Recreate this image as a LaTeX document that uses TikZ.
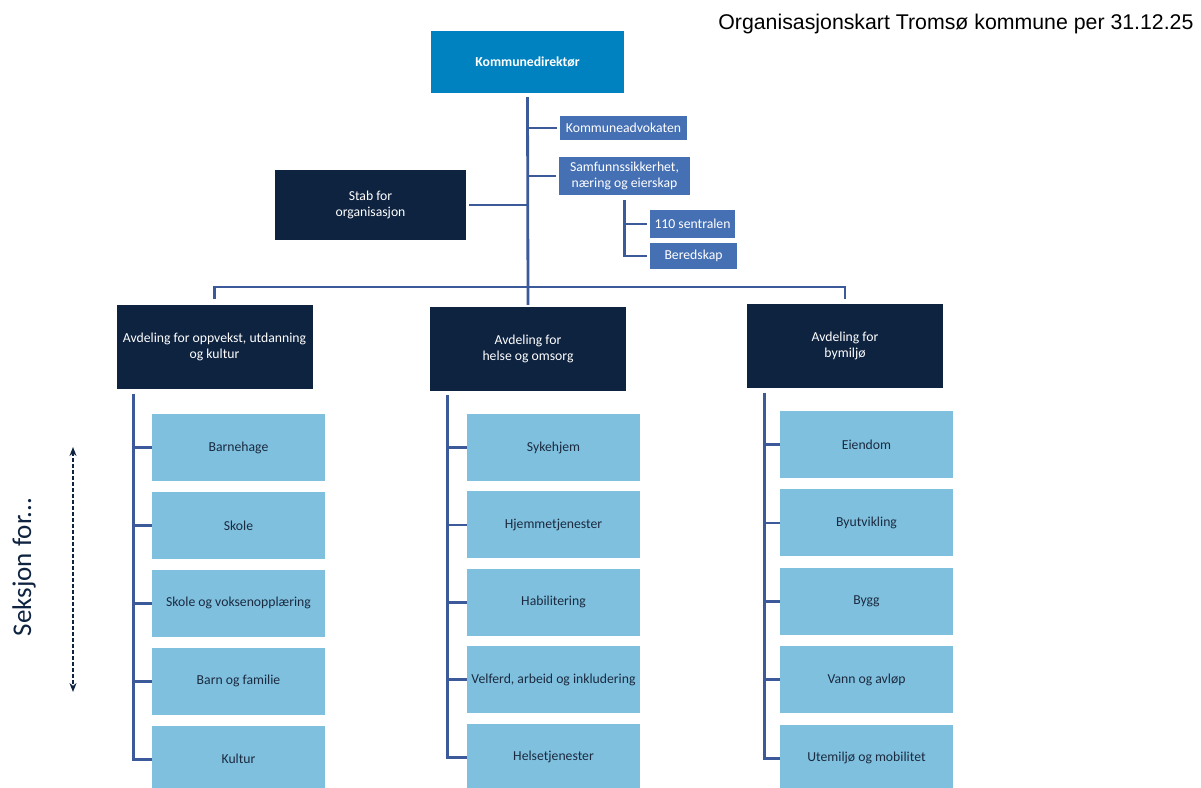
\documentclass[tikz,border=0pt]{standalone}
\usepackage{fontspec}
\setmainfont{Carlito}
\newfontfamily\titlefont{Liberation Sans}
\usetikzlibrary{chains,arrows.meta}

\definecolor{dirblue}{HTML}{0082C0}
\definecolor{midblue}{HTML}{4670B4}
\definecolor{navy}{HTML}{0E2340}
\definecolor{lightblue}{HTML}{7FC0DF}
\definecolor{linkblue}{HTML}{3C5A9A}
\definecolor{inkdark}{HTML}{1B2A3F}

\begin{document}
\begin{tikzpicture}[x=1pt, y=-1pt,
    box/.style={rectangle, align=center, inner sep=2pt,
      font=\fontsize{13.7}{16}\selectfont},
    dirbox/.style={box, fill=dirblue, text=white,
      font=\fontsize{13.7}{16}\selectfont\bfseries,
      minimum width=193pt, minimum height=62pt},
    staffbox/.style={box, fill=midblue, text=white},
    navybox/.style={box, fill=navy, text=white},
    deptbox/.style={navybox, minimum width=196pt, minimum height=84pt},
    unitbox/.style={box, fill=lightblue, text=inkdark,
      minimum width=173pt, minimum height=67pt},
    link/.style={draw=linkblue, line width=2.8pt},
    >={Stealth[length=9pt,width=7pt]}]
    \useasboundingbox (0,0) rectangle (1201,787);

    \node[anchor=base east, font=\titlefont\fontsize{21.3}{25}\selectfont] (title)
      at (1197,29) {Organisasjonskart Tromsø kommune per 31.12.25};

    % top level and staff
    \node[dirbox] (dir) at (527.5,62) {Kommunedirektør};
    \node[staffbox, minimum width=127pt, minimum height=24pt] (kadv) at (623.5,128) {Kommuneadvokaten};
    \node[staffbox, minimum width=131pt, minimum height=38pt] (samf) at (624.5,176) {Samfunnssikkerhet,\\næring og eierskap};
    \node[staffbox, minimum width=85pt, minimum height=28pt] (sentr) at (692.5,224) {110 sentralen};
    \node[staffbox, minimum width=87pt, minimum height=26pt] (bered) at (693.5,256) {Beredskap};
    \node[navybox, minimum width=191pt, minimum height=70pt] (stab) at (370.5,205) {Stab for\\organisasjon};

    % departments
    \node[deptbox] (oppv) at (214.5,346.5) {Avdeling for oppvekst, utdanning\\og kultur};
    \node[deptbox] (helse) at (528,349) {Avdeling for\\helse og omsorg};
    \node[deptbox] (bymil) at (845,346) {Avdeling for\\bymiljø};

    % sections
    \begin{scope}[start chain=going below, node distance=10.5pt]
    \node[unitbox,on chain] (barn) at (238.5,447.5) {Barnehage};
    \node[unitbox,on chain] (skole) {Skole};
    \node[unitbox,on chain] (voks) {Skole og voksenopplæring};
    \node[unitbox,on chain] (fam) {Barn og familie};
    \node[unitbox,on chain] (kult) {Kultur};
    \end{scope}
    \begin{scope}[start chain=going below, node distance=10pt]
    \node[unitbox,on chain] (syke) at (553.5,447.5) {Sykehjem};
    \node[unitbox,on chain] (hjem) {Hjemmetjenester};
    \node[unitbox,on chain] (habil) {Habilitering};
    \node[unitbox,on chain] (velf) {Velferd, arbeid og inkludering};
    \node[unitbox,on chain] (hels) {Helsetjenester};
    \end{scope}
    \begin{scope}[start chain=going below, node distance=11pt]
    \node[unitbox,on chain] (eien) at (866.5,444.5) {Eiendom};
    \node[unitbox,on chain] (byut) {Byutvikling};
    \node[unitbox,on chain] (bygg) {Bygg};
    \node[unitbox,on chain] (vann) {Vann og avløp};
    \node[unitbox,on chain] (ute) {Utemiljø og mobilitet};
    \end{scope}

    % lines from the top
    \draw[link] ([yshift=-4pt]dir.south) -- ([yshift=2pt]helse.north);
    \coordinate (bus) at (527,287);
    \draw[link] ([yshift=5pt]oppv.north) |- (bus) -| ([yshift=5pt]bymil.north);
    \draw[link] (kadv.west -| dir.south) -- ([xshift=-3pt]kadv.west);
    \draw[link] (samf.west -| dir.south) -- ([xshift=-3pt]samf.west);
    \draw[link] (stab.east -| dir.south) -- ([xshift=3pt]stab.east);
    \draw[link] ([yshift=-5pt]samf.south) |- ([xshift=-3pt]bered.west);
    \draw[link] (sentr.west -| samf.south) -- ([xshift=-3pt]sentr.west);

    % lines to the sections
    \coordinate (ov) at ([xshift=17pt,yshift=-5pt]oppv.south west);
    \draw[link] (ov) |- (kult.west);
    \draw[link] (barn.west -| ov) -- (barn.west);
    \draw[link] (skole.west -| ov) -- (skole.west);
    \draw[link] (voks.west -| ov) -- (voks.west);
    \draw[link] (fam.west -| ov) -- (fam.west);
    \coordinate (hv) at ([xshift=18pt,yshift=-4pt]helse.south west);
    \draw[link] (hv) |- (hels.west);
    \draw[link] (syke.west -| hv) -- (syke.west);
    \draw[link] (hjem.west -| hv) -- (hjem.west);
    \draw[link] (habil.west -| hv) -- (habil.west);
    \draw[link] (velf.west -| hv) -- (velf.west);
    \coordinate (bv) at ([xshift=18pt,yshift=-5pt]bymil.south west);
    \draw[link] (bv) |- (ute.west);
    \draw[link] (eien.west -| bv) -- (eien.west);
    \draw[link] (byut.west -| bv) -- (byut.west);
    \draw[link] (bygg.west -| bv) -- (bygg.west);
    \draw[link] (vann.west -| bv) -- (vann.west);

    % side note
    \node[rotate=90, text=navy, font=\fontsize{27}{32}\selectfont] (seksjon) at (24,567) {Seksjon for...};
    \coordinate (stop) at (73,447);
    \coordinate (sbot) at (73,692);
    \draw[navy, dash pattern=on 4pt off 2pt, line width=1.5pt, <->] (stop) -- (sbot);
\end{tikzpicture}
\end{document}
